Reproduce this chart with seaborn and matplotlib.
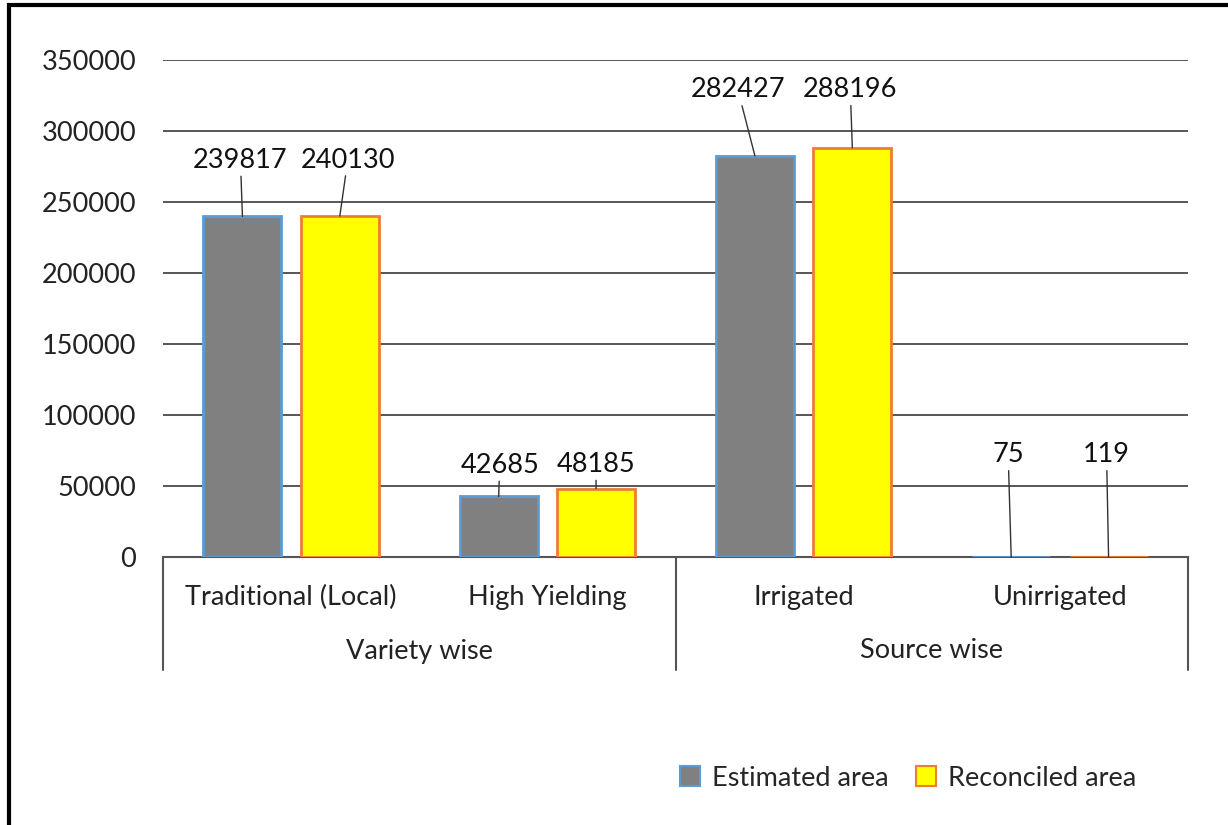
import pandas as pd
import matplotlib.pyplot as plt
import seaborn as sns
from matplotlib.patches import Rectangle

# ==================================================
# Daten
# ==================================================
categories = ["Traditional (Local)", "High Yielding", "Irrigated", "Unirrigated"]
groups = ["Variety wise", "Source wise"]
series = ["Estimated area", "Reconciled area"]
estimated = [239817, 42685, 282427, 75]
reconciled = [240130, 48185, 288196, 119]

df = pd.DataFrame({
    "Category": categories * 2,
    "Series": [series[0]] * 4 + [series[1]] * 4,
    "Value": estimated + reconciled,
})

# Label-Versatz in Pixeln (dx, dy) pro Balken, Reihenfolge wie df
label_offsets = [(-2, 56), (1, 31), (-17, 66), (-3, 102),
                 (8, 56), (0, 24), (-2, 58), (-2, 102)]

FILL = {series[0]: "#808080", series[1]: "#FFFF00"}
EDGE = {series[0]: "#5B9BD5", series[1]: "#ED7D31"}

sns.set_theme(style="white")
plt.rcParams["font.family"] = ["Lato", "DejaVu Sans"]
FS = 19.5

W, H = 1228, 825
fig = plt.figure(figsize=(W / 100, H / 100), dpi=100)
ax = fig.add_axes([163 / W, (H - 557) / H, (1188 - 163) / W, (557 - 60) / H])

sns.barplot(data=df, x="Category", y="Value", hue="Series", palette=FILL,
            width=0.76, gap=0.2, saturation=1, ax=ax, legend=False)

# Balkenränder
for cont, s in zip(ax.containers, series):
    for bar in cont:
        bar.set_edgecolor(EDGE[s])
        bar.set_linewidth(2)
        bar.set_zorder(3)

ax.set_ylim(0, 350000)
ax.set_xlim(-0.5, 3.5)
ax.set_yticks(range(0, 350001, 50000))
ax.yaxis.grid(True, color="#3a3a3a", lw=1.2)
ax.set_axisbelow(True)
for sp in ["top", "right", "left"]:
    ax.spines[sp].set_visible(False)
ax.spines["bottom"].set_color("#555555")
ax.spines["bottom"].set_linewidth(1.5)
ax.spines["bottom"].set_zorder(2)
ax.tick_params(axis="y", length=0, pad=19.5, labelsize=FS, labelcolor="#222222")
ax.tick_params(axis="x", length=0, pad=20, labelsize=FS, labelcolor="#222222")
ax.set_xlabel("")
ax.set_ylabel("")

# Datenbeschriftungen mit Führungslinien
i = 0
for cont in ax.containers:
    for bar in cont:
        val = bar.get_height()
        dx, dy = label_offsets[i]
        ax.annotate(f"{int(val)}", xy=(bar.get_x() + bar.get_width() / 2, val),
                    xytext=(dx, dy), textcoords="offset pixels",
                    ha="center", va="center", fontsize=FS, color="#111111",
                    arrowprops=dict(arrowstyle="-", color="#333333", lw=1.0,
                                    shrinkA=0, shrinkB=0))
        i += 1

# Gruppen-Achse
trans = ax.get_xaxis_transform()
sep_depth = (670 - 557) / (557 - 60)
for x in [-0.5, 1.5, 3.5]:
    ax.plot([x, x], [0, -sep_depth], transform=trans, color="#555555",
            lw=1.5, clip_on=False)
grp_y = -(651 - 557) / (557 - 60)
for x, g in zip([0.5, 2.5], groups):
    ax.text(x, grp_y, g, transform=trans, ha="center", va="center",
            fontsize=FS, color="#222222")

# Legende
handles = [Rectangle((0, 0), 1, 1, facecolor=FILL[s], edgecolor=EDGE[s], lw=1.5)
           for s in series]
fig.legend(handles, series, loc="center", bbox_to_anchor=(908 / W, 1 - 778 / H),
           ncol=2, frameon=False, fontsize=FS, handlelength=0.75, handleheight=0.75,
           handletextpad=0.45, columnspacing=1.0)

# Rahmen
fig.patches.append(Rectangle((9 / W, -0.1), 1.2, 1 - 5 / H + 0.1, transform=fig.transFigure,
                             fill=False, edgecolor="black", lw=3))

fig.savefig("out.png", dpi=100)
